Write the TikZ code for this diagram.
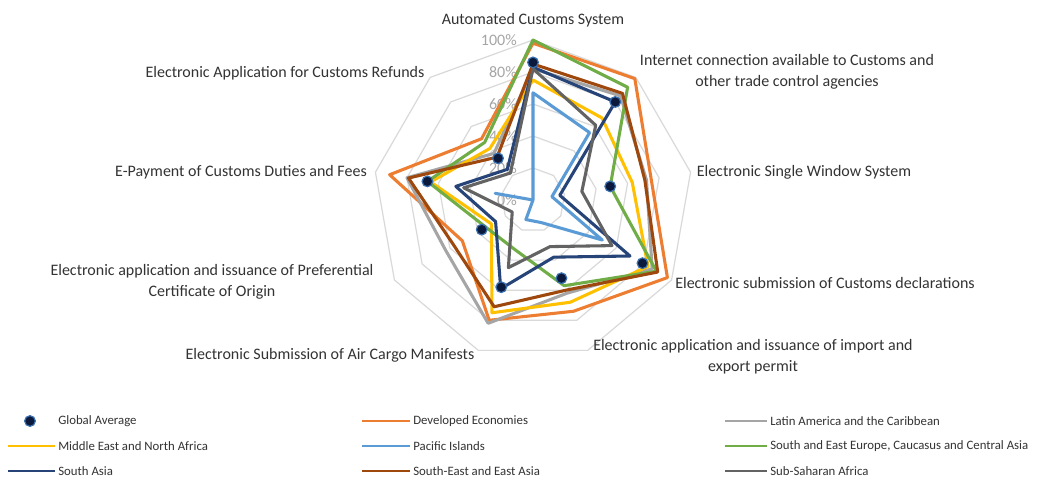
\documentclass[tikz,border=0pt]{standalone}
\usepackage{fontspec}
\setmainfont{Carlito}

\definecolor{gridgrey}{HTML}{D9D9D9}
\definecolor{tickgrey}{HTML}{A6A6A6}
\definecolor{labelgrey}{HTML}{333333}
\definecolor{devorange}{HTML}{ED7D31}
\definecolor{latgrey}{HTML}{A5A5A5}
\definecolor{menayellow}{HTML}{FFC000}
\definecolor{pacblue}{HTML}{5B9BD5}
\definecolor{seegreen}{HTML}{70AD47}
\definecolor{sanavy}{HTML}{264478}
\definecolor{seabrown}{HTML}{9E480E}
\definecolor{ssagrey}{HTML}{636363}
\definecolor{dotfill}{HTML}{0B1A3C}
\definecolor{dotedge}{HTML}{3A6FB0}

\tikzset{
  gridline/.style={draw=gridgrey, line width=0.9pt, line join=round},
  series/.style={line width=2.3pt, line join=round},
  legline/.style={line width=1.8pt},
  avgdot/.style={circle, fill=dotfill, draw=dotedge, line width=0.9pt, inner sep=0pt, minimum size=8pt},
  catlabel/.style={font=\fontsize{12}{16}\selectfont, text=labelgrey, align=center, inner sep=0pt},
  ticklabel/.style={font=\fontsize{12}{14}\selectfont, text=tickgrey, inner sep=0pt, anchor=east},
  legtext/.style={font=\fontsize{9.6}{12}\selectfont, text=labelgrey, anchor=west, inner sep=0pt},
}

% one closed polygon over the nine axes; 100% = 160 units
\newcommand\radarseries[2]{%
  \foreach \v [count=\i] in {#2}{\coordinate (#1-\i) at ({130-40*\i}:{1.6*\v});}%
  \draw[series, draw=#1] (#1-1) -- (#1-2) -- (#1-3) -- (#1-4) -- (#1-5)
     -- (#1-6) -- (#1-7) -- (#1-8) -- (#1-9) -- cycle;
}
\newcommand\gridring[1]{%
  \draw[gridline] (90:#1) -- (50:#1) -- (10:#1) -- (-30:#1) -- (-70:#1)
     -- (-110:#1) -- (-150:#1) -- (170:#1) -- (130:#1) -- cycle;
}

\begin{document}
\begin{tikzpicture}[x=0.75pt, y=-0.75pt]
\useasboundingbox[fill=white] (0,0) rectangle (1059,483);

\begin{scope}[shift={(533,200)}, yscale=-1]
  % value rings
  \foreach \k in {1,...,5}{\gridring{32*\k}}
  % value axis labels
  \foreach \k/\lab in {0/0\%,1/20\%,2/40\%,3/60\%,4/80\%,5/100\%}
    \node[ticklabel] (tick\k) at (-16,{32*\k}) {\lab};

  % regional series
  \radarseries{devorange}{98,99,75,97,74,80,51,91,50}
  \radarseries{latgrey}{82,85,72,86,62,82,63,80,38}
  \radarseries{menayellow}{75,67,63,83,68,75,30,65,42}
  \radarseries{pacblue}{67,55,12,50,15,13,0,24,0}
  \radarseries{seegreen}{100,92,49,89,57,33,34,67,47}
  \radarseries{sanavy}{83,80,17,70,38,59,27,49,25}
  \radarseries{seabrown}{85,87,71,90,60,71,57,79,35}
  \radarseries{ssagrey}{82,61,31,57,31,45,15,44,22}

  % global average markers
  \foreach \v [count=\i] in {86,80,49,79,52,58,37,67,34}
    \node[avgdot] (avg\i) at ({130-40*\i}:{1.6*\v}) {};
\end{scope}

% axis category labels
\node[catlabel] (cat1) at (533,20) {Automated Customs System};
\node[catlabel] (cat2) at (787,72) {Internet connection available to Customs and\\other trade control agencies};
\node[catlabel] (cat3) at (804,172) {Electronic Single Window System};
\node[catlabel] (cat4) at (825,283) {Electronic submission of Customs declarations};
\node[catlabel] (cat5) at (753,357) {Electronic application and issuance of import and\\export permit};
\node[catlabel] (cat6) at (330,355) {Electronic Submission of Air Cargo Manifests};
\node[catlabel] (cat7) at (212,282) {Electronic application and issuance of Preferential\\Certificate of Origin};
\node[catlabel] (cat8) at (241,172) {E-Payment of Customs Duties and Fees};
\node[catlabel] (cat9) at (285,73) {Electronic Application for Customs Refunds};

% legend
\node[avgdot] (legavg) at (30,421) {};
\node[legtext] (legavgtxt) at (58,421) {Global Average};

\coordinate (lgA1) at (362,421); \coordinate (lgA2) at (410,421);
\draw[legline, devorange] (lgA1) -- (lgA2);
\node[legtext] (lgAt) at (413,421) {Developed Economies};

\coordinate (lgB1) at (725,421); \coordinate (lgB2) at (767,421);
\draw[legline, latgrey] (lgB1) -- (lgB2);
\node[legtext] (lgBt) at (770,421) {Latin America and the Caribbean};

\coordinate (lgC1) at (8,446); \coordinate (lgC2) at (55,446);
\draw[legline, menayellow] (lgC1) -- (lgC2);
\node[legtext] (lgCt) at (58,446) {Middle East and North Africa};

\coordinate (lgD1) at (362,446); \coordinate (lgD2) at (410,446);
\draw[legline, pacblue] (lgD1) -- (lgD2);
\node[legtext] (lgDt) at (413,446) {Pacific Islands};

\coordinate (lgE1) at (725,446); \coordinate (lgE2) at (767,446);
\draw[legline, seegreen] (lgE1) -- (lgE2);
\node[legtext] (lgEt) at (770,446) {South and East Europe, Caucasus and Central Asia};

\coordinate (lgF1) at (8,471); \coordinate (lgF2) at (55,471);
\draw[legline, sanavy] (lgF1) -- (lgF2);
\node[legtext] (lgFt) at (58,471) {South Asia};

\coordinate (lgG1) at (362,471); \coordinate (lgG2) at (410,471);
\draw[legline, seabrown] (lgG1) -- (lgG2);
\node[legtext] (lgGt) at (413,471) {South-East and East Asia};

\coordinate (lgH1) at (725,471); \coordinate (lgH2) at (767,471);
\draw[legline, ssagrey] (lgH1) -- (lgH2);
\node[legtext] (lgHt) at (770,471) {Sub-Saharan Africa};
\end{tikzpicture}
\end{document}
